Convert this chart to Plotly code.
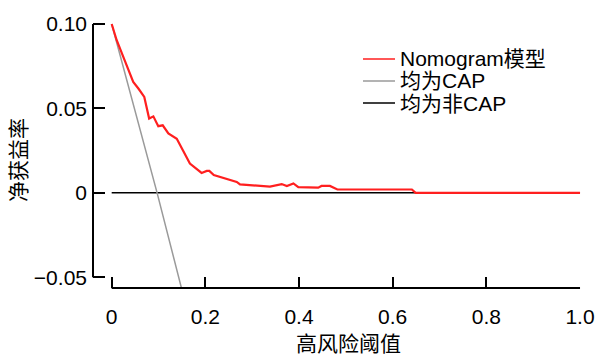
import plotly.graph_objects as go

# ---- data ----
threshold_model = [0, 0.0107, 0.0248, 0.0355, 0.046, 0.057, 0.0696, 0.080, 0.089, 0.0995,
                   0.109, 0.121, 0.139, 0.167, 0.192, 0.203, 0.2085, 0.218, 0.267, 0.274,
                   0.295, 0.338, 0.363, 0.374, 0.388, 0.3985, 0.441, 0.448, 0.466, 0.482,
                   0.641, 0.649, 1.0]
net_benefit_model = [0.100, 0.0904, 0.0805, 0.0727, 0.0657, 0.0618, 0.0568, 0.044, 0.0453, 0.0395,
                     0.040, 0.0352, 0.032, 0.0174, 0.0118, 0.013, 0.013, 0.0105, 0.0065, 0.005,
                     0.0045, 0.0037, 0.0052, 0.0040, 0.0056, 0.0034, 0.0031, 0.0041, 0.0041, 0.0020,
                     0.0020, 0.0, 0.0]

threshold_all = [0, 0.014, 0.05, 0.097, 0.15, 0.2]
net_benefit_all = [0.100, 0.0855, 0.0475, 0.0, -0.0575, -0.11]

threshold_none = [0, 1]
net_benefit_none = [0, 0]

series_names = ["Nomogram模型", "均为CAP", "均为非CAP"]
series_colors = ["#ff1f1f", "#9a9a9a", "#000000"]

x_tick_vals = [0, 0.2, 0.4, 0.6, 0.8, 1.0]
x_tick_text = ["0", "0.2", "0.4", "0.6", "0.8", "1.0"]
y_tick_vals = [-0.05, 0, 0.05, 0.10]
y_tick_text = ["\u22120.05", "0", "0.05", "0.10"]
x_title = "高风险阈值"
y_title = "净获益率"

FONT = "Arial, 'Liberation Sans', 'Noto Sans CJK SC', sans-serif"
FS = 21

W, H = 596, 356
ML, MR, MT, MB = 93, 15, 23, 68
PW, PH = W - ML - MR, H - MT - MB


def px_x(px):
    return (px - ML) / PW


def px_y(py):
    return (H - MB - py) / PH


fig = go.Figure()
fig.add_trace(go.Scatter(x=threshold_none, y=net_benefit_none, mode="lines",
                         name=series_names[2], line=dict(color=series_colors[2], width=1.5)))
fig.add_trace(go.Scatter(x=threshold_all, y=net_benefit_all, mode="lines",
                         name=series_names[1], line=dict(color=series_colors[1], width=1.5)))
fig.add_trace(go.Scatter(x=threshold_model, y=net_benefit_model, mode="lines",
                         name=series_names[0], line=dict(color=series_colors[0], width=2.2)))

# axis lines (detached, R style)
fig.add_shape(type="line", xref="paper", yref="y", x0=0, x1=0,
              y0=y_tick_vals[0], y1=y_tick_vals[-1], line=dict(color="black", width=2))
fig.add_shape(type="line", xref="x", yref="paper", x0=x_tick_vals[0], x1=x_tick_vals[-1],
              y0=0, y1=0, line=dict(color="black", width=2))

# manual legend
legend_rows = [59, 81, 103]
for name, color, row in zip(series_names, series_colors, legend_rows):
    fig.add_shape(type="line", xref="paper", yref="paper",
                  x0=px_x(363), x1=px_x(395), y0=px_y(row), y1=px_y(row),
                  line=dict(color=color, width=1.5))
    fig.add_annotation(text=name, xref="paper", yref="paper", x=px_x(399), y=px_y(row),
                       xanchor="left", yanchor="middle", showarrow=False, borderpad=0,
                       font=dict(family=FONT, size=FS, color="black"))

# axis titles
fig.add_annotation(text=x_title, xref="paper", yref="paper", x=px_x(348.5), y=px_y(343.5),
                   xanchor="center", yanchor="middle", showarrow=False, borderpad=0,
                   font=dict(family=FONT, size=FS, color="black"))
fig.add_annotation(text=y_title, xref="paper", yref="paper", x=px_x(18), y=px_y(160),
                   xanchor="center", yanchor="middle", showarrow=False, textangle=-90,
                   font=dict(family=FONT, size=FS, color="black"))

fig.update_layout(
    width=W, height=H,
    margin=dict(l=ML, r=MR, t=MT, b=MB),
    plot_bgcolor="white", paper_bgcolor="white",
    showlegend=False,
    font=dict(family=FONT, size=FS, color="black"),
    xaxis=dict(range=[-0.0399, 1.0021], showgrid=False, zeroline=False, showline=False,
               automargin=False,
               ticks="inside", ticklen=11, tickwidth=2, tickcolor="black",
               ticklabelstandoff=14,
               tickmode="array", tickvals=x_tick_vals, ticktext=x_tick_text,
               tickfont=dict(family=FONT, size=FS, color="black")),
    yaxis=dict(range=[-0.05634, 0.1006], showgrid=False, zeroline=False, showline=False,
               automargin=False,
               ticks="inside", ticklen=12, tickwidth=2, tickcolor="black",
               ticklabelstandoff=5,
               tickmode="array", tickvals=y_tick_vals, ticktext=y_tick_text,
               tickfont=dict(family=FONT, size=FS, color="black")),
)

fig.write_html("out.html", config={"displayModeBar": False},
               post_script="document.body.style.margin='0';document.body.style.overflow='hidden';")
